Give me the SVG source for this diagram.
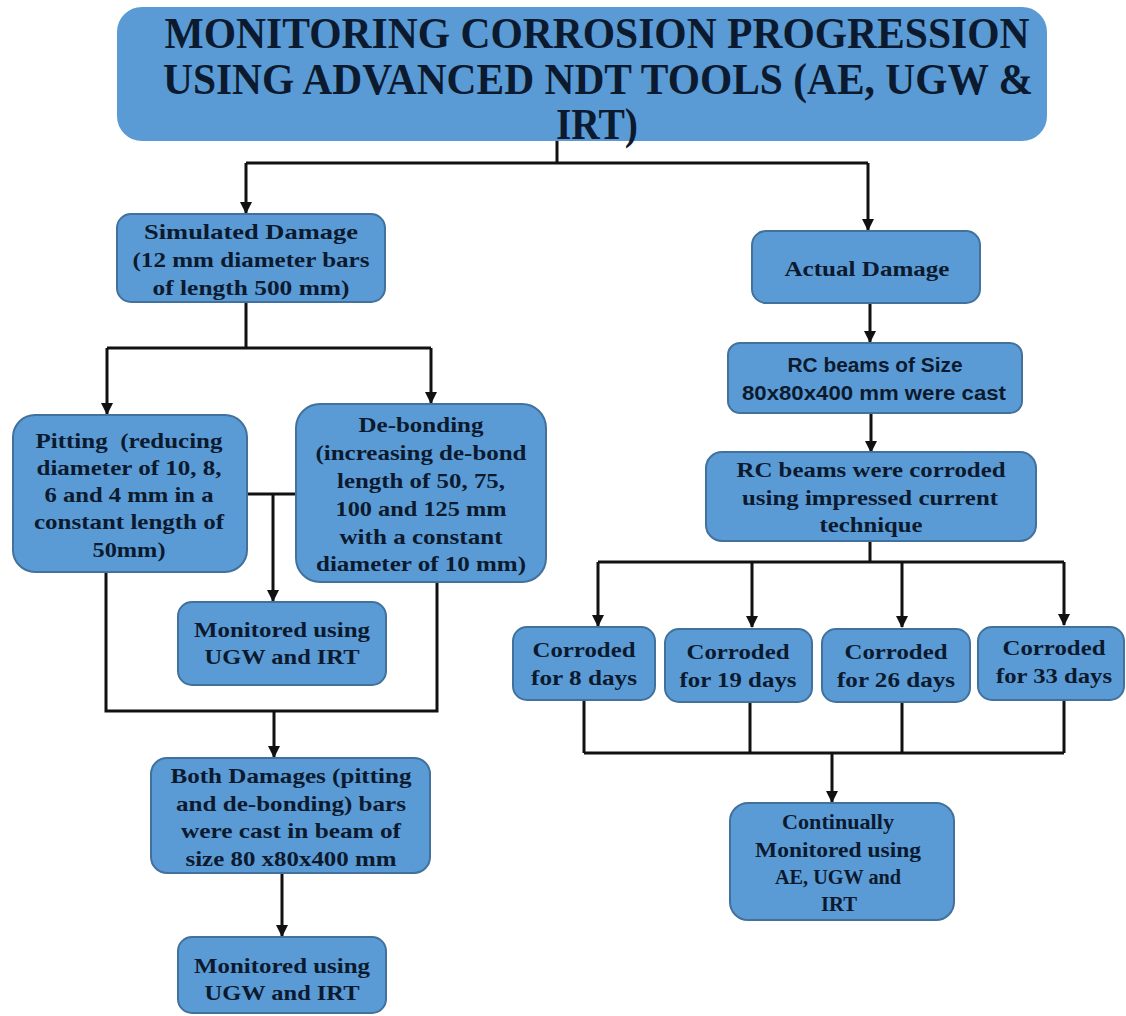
<svg xmlns="http://www.w3.org/2000/svg" width="1126" height="1016" viewBox="0 0 1126 1016">
<defs>
<marker id="ah" markerWidth="12" markerHeight="12" refX="11" refY="6" orient="auto" markerUnits="userSpaceOnUse" viewBox="0 0 12 12">
<path d="M0,0 L12,6 L0,12 Z" fill="#111"/>
</marker>
</defs>
<style>
.box{fill:#5b9bd5;stroke:#41719c;stroke-width:2}
.t{font-family:"Liberation Serif","Times New Roman",serif;font-weight:bold;font-size:22px;fill:#0b1a2e;text-anchor:middle}
.s{font-family:"Liberation Sans",Arial,sans-serif;font-weight:bold;font-size:21px;fill:#0b1a2e;text-anchor:middle}
.h{font-family:"Liberation Serif","Times New Roman",serif;font-weight:bold;font-size:44px;fill:#0b1a2e;text-anchor:middle}
.c{fill:none;stroke:#111;stroke-width:3}
.a{fill:none;stroke:#111;stroke-width:3;marker-end:url(#ah)}
</style>
<rect width="1126" height="1016" fill="#ffffff"/>

<g id="connectors">
<path class="c" d="M557,140 V163 M246,163 H868"/>
<path class="a" d="M246,163 V213"/>
<path class="a" d="M868,163 V230"/>
<path class="c" d="M246,302 V348 M107,348 H431"/>
<path class="a" d="M107,348 V414"/>
<path class="a" d="M431,348 V403"/>
<path class="c" d="M247,494 H296"/>
<path class="a" d="M273,494 V601"/>
<path class="c" d="M106,572 V711 H437 V582"/>
<path class="a" d="M274,711 V757"/>
<path class="a" d="M282,873 V936"/>
<path class="a" d="M870,303 V342"/>
<path class="a" d="M871,413 V452"/>
<path class="c" d="M870,541 V562 M598,562 H1064"/>
<path class="a" d="M598,562 V626"/>
<path class="a" d="M752,562 V627"/>
<path class="a" d="M902,562 V627"/>
<path class="a" d="M1064,562 V625"/>
<path class="c" d="M584,700 V753 M750,702 V753 M902,702 V753 M1064,700 V753 M584,753 H1064"/>
<path class="a" d="M832,753 V802"/>
</g>

<g id="title">
<rect x="118" y="8" width="928" height="132" rx="24" fill="#5b9bd5" stroke="#5b9bd5" stroke-width="2"/>
<text class="h" x="597" y="48" textLength="865" lengthAdjust="spacingAndGlyphs">MONITORING CORROSION PROGRESSION</text>
<text class="h" x="598" y="94" textLength="870" lengthAdjust="spacingAndGlyphs">USING ADVANCED NDT TOOLS (AE, UGW &amp;</text>
<text class="h" x="597" y="139" textLength="82" lengthAdjust="spacingAndGlyphs">IRT)</text>
</g>

<g id="simulated">
<rect class="box" x="117" y="214" width="268" height="88" rx="14"/>
<text class="t" x="251" y="239" textLength="214" lengthAdjust="spacingAndGlyphs">Simulated Damage</text>
<text class="t" x="251" y="267" textLength="237" lengthAdjust="spacingAndGlyphs">(12 mm diameter bars</text>
<text class="t" x="251" y="295" textLength="197" lengthAdjust="spacingAndGlyphs">of length 500 mm)</text>
</g>

<g id="pitting">
<rect class="box" x="13" y="415" width="234" height="157" rx="22"/>
<text class="t" x="129" y="448" textLength="187" lengthAdjust="spacingAndGlyphs">Pitting&#160; (reducing</text>
<text class="t" x="129" y="475" textLength="185" lengthAdjust="spacingAndGlyphs">diameter of 10, 8,</text>
<text class="t" x="129" y="502" textLength="169" lengthAdjust="spacingAndGlyphs">6 and 4 mm in a</text>
<text class="t" x="129" y="529" textLength="190" lengthAdjust="spacingAndGlyphs">constant length of</text>
<text class="t" x="129" y="557" textLength="73" lengthAdjust="spacingAndGlyphs">50mm)</text>
</g>

<g id="debonding">
<rect class="box" x="296" y="404" width="250" height="178" rx="24"/>
<text class="t" x="421" y="432" textLength="125" lengthAdjust="spacingAndGlyphs">De-bonding</text>
<text class="t" x="421" y="460" textLength="211" lengthAdjust="spacingAndGlyphs">(increasing de-bond</text>
<text class="t" x="421" y="488" textLength="168" lengthAdjust="spacingAndGlyphs">length of 50, 75,</text>
<text class="t" x="421" y="516" textLength="171" lengthAdjust="spacingAndGlyphs">100 and 125 mm</text>
<text class="t" x="421" y="544" textLength="163" lengthAdjust="spacingAndGlyphs">with a constant</text>
<text class="t" x="421" y="571" textLength="210" lengthAdjust="spacingAndGlyphs">diameter of 10 mm)</text>
</g>

<g id="monitored1">
<rect class="box" x="178" y="602" width="208" height="83" rx="14"/>
<text class="t" x="282" y="637" textLength="176" lengthAdjust="spacingAndGlyphs">Monitored using</text>
<text class="t" x="282" y="664" textLength="155" lengthAdjust="spacingAndGlyphs">UGW and IRT</text>
</g>

<g id="both">
<rect class="box" x="151" y="758" width="279" height="115" rx="16"/>
<text class="t" x="291" y="783" textLength="241" lengthAdjust="spacingAndGlyphs">Both Damages (pitting</text>
<text class="t" x="291" y="811" textLength="230" lengthAdjust="spacingAndGlyphs">and de-bonding) bars</text>
<text class="t" x="291" y="838" textLength="220" lengthAdjust="spacingAndGlyphs">were cast in beam of</text>
<text class="t" x="291" y="866" textLength="211" lengthAdjust="spacingAndGlyphs">size 80 x80x400 mm</text>
</g>

<g id="monitored2">
<rect class="box" x="178" y="937" width="208" height="76" rx="14"/>
<text class="t" x="282" y="973" textLength="176" lengthAdjust="spacingAndGlyphs">Monitored using</text>
<text class="t" x="282" y="1000" textLength="155" lengthAdjust="spacingAndGlyphs">UGW and IRT</text>
</g>

<g id="actual">
<rect class="box" x="752" y="231" width="228" height="72" rx="14"/>
<text class="t" x="867" y="276" textLength="165" lengthAdjust="spacingAndGlyphs">Actual Damage</text>
</g>

<g id="rcsize">
<rect class="box" x="728" y="343" width="294" height="70" rx="12"/>
<text class="s" x="875" y="372" textLength="175" lengthAdjust="spacingAndGlyphs">RC beams of Size</text>
<text class="s" x="874" y="400" textLength="264" lengthAdjust="spacingAndGlyphs">80x80x400 mm were cast</text>
</g>

<g id="rccorroded">
<rect class="box" x="706" y="452" width="330" height="89" rx="16"/>
<text class="t" x="871" y="477" textLength="269" lengthAdjust="spacingAndGlyphs">RC beams were corroded</text>
<text class="t" x="870" y="505" textLength="256" lengthAdjust="spacingAndGlyphs">using impressed current</text>
<text class="t" x="871" y="532" textLength="103" lengthAdjust="spacingAndGlyphs">technique</text>
</g>

<g id="c8">
<rect class="box" x="513" y="627" width="142" height="73" rx="14"/>
<text class="t" x="584" y="657" textLength="103" lengthAdjust="spacingAndGlyphs">Corroded</text>
<text class="t" x="584" y="685" textLength="106" lengthAdjust="spacingAndGlyphs">for 8 days</text>
</g>

<g id="c19">
<rect class="box" x="665" y="629" width="147" height="73" rx="14"/>
<text class="t" x="738" y="659" textLength="103" lengthAdjust="spacingAndGlyphs">Corroded</text>
<text class="t" x="738" y="687" textLength="117" lengthAdjust="spacingAndGlyphs">for 19 days</text>
</g>

<g id="c26">
<rect class="box" x="822" y="629" width="148" height="73" rx="14"/>
<text class="t" x="896" y="659" textLength="103" lengthAdjust="spacingAndGlyphs">Corroded</text>
<text class="t" x="896" y="687" textLength="118" lengthAdjust="spacingAndGlyphs">for 26 days</text>
</g>

<g id="c33">
<rect class="box" x="978" y="627" width="146" height="73" rx="14"/>
<text class="t" x="1054" y="655" textLength="103" lengthAdjust="spacingAndGlyphs">Corroded</text>
<text class="t" x="1054" y="683" textLength="116" lengthAdjust="spacingAndGlyphs">for 33 days</text>
</g>

<g id="continually">
<rect class="box" x="730" y="803" width="224" height="117" rx="18"/>
<text class="t" x="838" y="829" textLength="112" lengthAdjust="spacingAndGlyphs">Continually</text>
<text class="t" x="838" y="857" textLength="166" lengthAdjust="spacingAndGlyphs">Monitored using</text>
<text class="t" x="838" y="884" textLength="126" lengthAdjust="spacingAndGlyphs">AE, UGW and</text>
<text class="t" x="839" y="911" textLength="36" lengthAdjust="spacingAndGlyphs">IRT</text>
</g>
</svg>
